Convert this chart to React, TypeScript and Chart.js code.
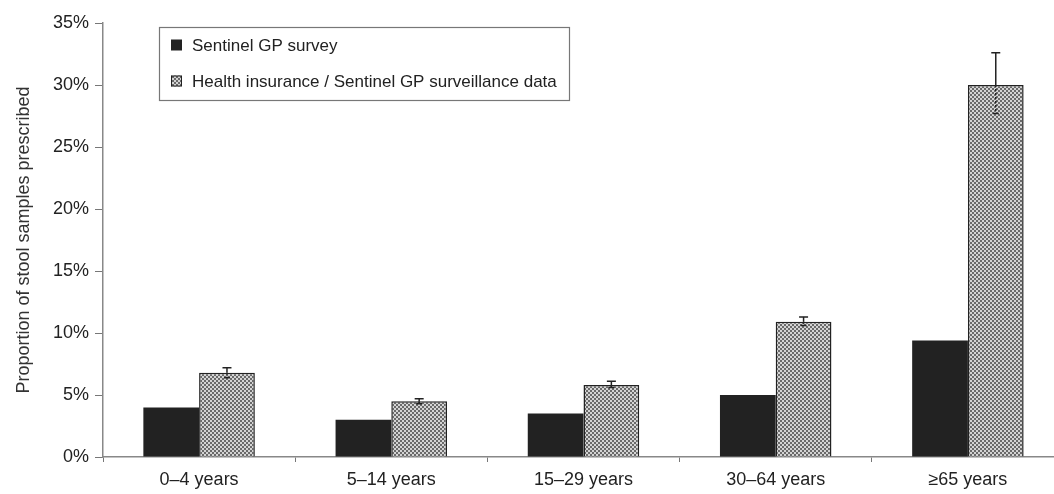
import React, { useEffect, useRef } from "react";
import { Chart, registerables } from "chart.js";

Chart.register(...registerables);

const categories = ["0–4 years", "5–14 years", "15–29 years", "30–64 years", "≥65 years"];
const surveyValues = [4.0, 3.0, 3.5, 5.0, 9.4];
const insuranceValues = [6.8, 4.5, 5.8, 10.9, 30.0];
const insuranceErrLow = [6.4, 4.3, 5.6, 10.6, 27.7];
const insuranceErrHigh = [7.2, 4.7, 6.1, 11.3, 32.6];
const seriesLabels = ["Sentinel GP survey", "Health insurance / Sentinel GP surveillance data"];
const yTicks = [0, 5, 10, 15, 20, 25, 30, 35];

const FONT = "'Liberation Sans', Arial, sans-serif";

function makePattern(): CanvasPattern | string {
  const c = document.createElement("canvas");
  c.width = 4;
  c.height = 4;
  const g = c.getContext("2d");
  if (!g) return "#999";
  g.fillStyle = "#d4d4d4";
  g.fillRect(0, 0, 4, 4);
  g.fillStyle = "#6a6a6a";
  g.fillRect(0, 0, 2, 2);
  g.fillRect(2, 2, 2, 2);
  const p = g.createPattern(c, "repeat");
  return p || "#999";
}

const errorBarPlugin = {
  id: "errorBars",
  afterDatasetsDraw(chart: any) {
    const meta = chart.getDatasetMeta(1);
    const y = chart.scales.y;
    const ctx = chart.ctx;
    ctx.save();
    ctx.strokeStyle = "#222";
    ctx.lineWidth = 1.5;
    meta.data.forEach((bar: any, i: number) => {
      const x = bar.x;
      const yHi = y.getPixelForValue(insuranceErrHigh[i]);
      const yLo = y.getPixelForValue(insuranceErrLow[i]);
      const yTop = bar.y;
      ctx.setLineDash([]);
      ctx.beginPath();
      ctx.moveTo(x, yHi);
      ctx.lineTo(x, yTop);
      ctx.stroke();
      ctx.setLineDash([2, 2]);
      ctx.beginPath();
      ctx.moveTo(x, yTop);
      ctx.lineTo(x, yLo);
      ctx.stroke();
      ctx.setLineDash([]);
      ctx.beginPath();
      ctx.moveTo(x - 4.5, yHi);
      ctx.lineTo(x + 4.5, yHi);
      ctx.moveTo(x - 3, yLo);
      ctx.lineTo(x + 3, yLo);
      ctx.stroke();
    });
    ctx.restore();
  },
};

const legendBoxPlugin = {
  id: "legendBox",
  afterDraw(chart: any) {
    const ctx = chart.ctx;
    ctx.save();
    const bx = 159, by = 27, bw = 410, bh = 73;
    ctx.fillStyle = "#fff";
    ctx.fillRect(bx, by, bw, bh);
    ctx.strokeStyle = "#777";
    ctx.lineWidth = 1.2;
    ctx.strokeRect(bx + 0.5, by + 0.5, bw, bh);
    const rows = [45, 81];
    const fills = [chart.data.datasets[0].backgroundColor, chart.data.datasets[1].backgroundColor];
    rows.forEach((ry, i) => {
      ctx.fillStyle = fills[i];
      ctx.fillRect(171, ry - 5.5, 11, 11);
      if (i === 1) {
        ctx.strokeStyle = "#222";
        ctx.lineWidth = 1;
        ctx.strokeRect(171.5, ry - 5, 10, 10);
      }
      ctx.fillStyle = "#222";
      ctx.font = `17px ${FONT}`;
      ctx.textBaseline = "middle";
      ctx.textAlign = "left";
      ctx.fillText(seriesLabels[i], 192, ry + 1);
    });
    ctx.restore();
  },
};

export default function App() {
  const ref = useRef<HTMLCanvasElement | null>(null);
  useEffect(() => {
    if (!ref.current) return;
    const pattern = makePattern();
    const chart = new Chart(ref.current, {
      type: "bar",
      data: {
        labels: categories,
        datasets: [
          {
            label: seriesLabels[0],
            data: surveyValues,
            backgroundColor: "#222222",
            borderWidth: 0,
            barPercentage: 1,
            categoryPercentage: 0.58,
          },
          {
            label: seriesLabels[1],
            data: insuranceValues,
            backgroundColor: pattern as any,
            borderColor: "#222",
            borderWidth: 1.5,
            barPercentage: 1,
            categoryPercentage: 0.58,
          },
        ],
      },
      options: {
        responsive: false,
        animation: false,
        layout: { padding: { left: 0, right: 6, top: 23, bottom: 0 } },
        plugins: {
          legend: { display: false },
          tooltip: { enabled: false },
        },
        scales: {
          x: {
            grid: {
              offset: true,
              drawOnChartArea: false,
              drawTicks: true,
              tickLength: 5,
              color: "#777",
            },
            border: { color: "#888", width: 1.5 },
            ticks: {
              color: "#222",
              font: { family: FONT, size: 18 },
              padding: 7,
            },
            afterFit: (s: any) => {
              s.height = 37;
            },
          },
          y: {
            min: 0,
            max: 35,
            afterBuildTicks: (s: any) => {
              s.ticks = yTicks.map((v) => ({ value: v }));
            },
            grid: {
              drawOnChartArea: false,
              drawTicks: true,
              tickLength: 8,
              color: "#777",
            },
            border: { color: "#888", width: 1.5 },
            ticks: {
              color: "#222",
              font: { family: FONT, size: 18 },
              padding: 6,
              callback: (v: any) => `${v}%`,
            },
            title: {
              display: true,
              text: "Proportion of stool samples prescribed",
              color: "#333",
              font: { family: FONT, size: 18 },
              padding: { top: 13, bottom: 0 },
            },
            afterFit: (s: any) => {
              s.width = 103;
            },
          },
        },
      },
      plugins: [errorBarPlugin, legendBoxPlugin],
    });
    return () => chart.destroy();
  }, []);
  return (
    <div style={{ position: "fixed", left: 0, top: 0, width: 1070, height: 494, background: "#fff" }}>
      <canvas ref={ref} width={1070} height={494} style={{ display: "block" }} />
    </div>
  );
}
